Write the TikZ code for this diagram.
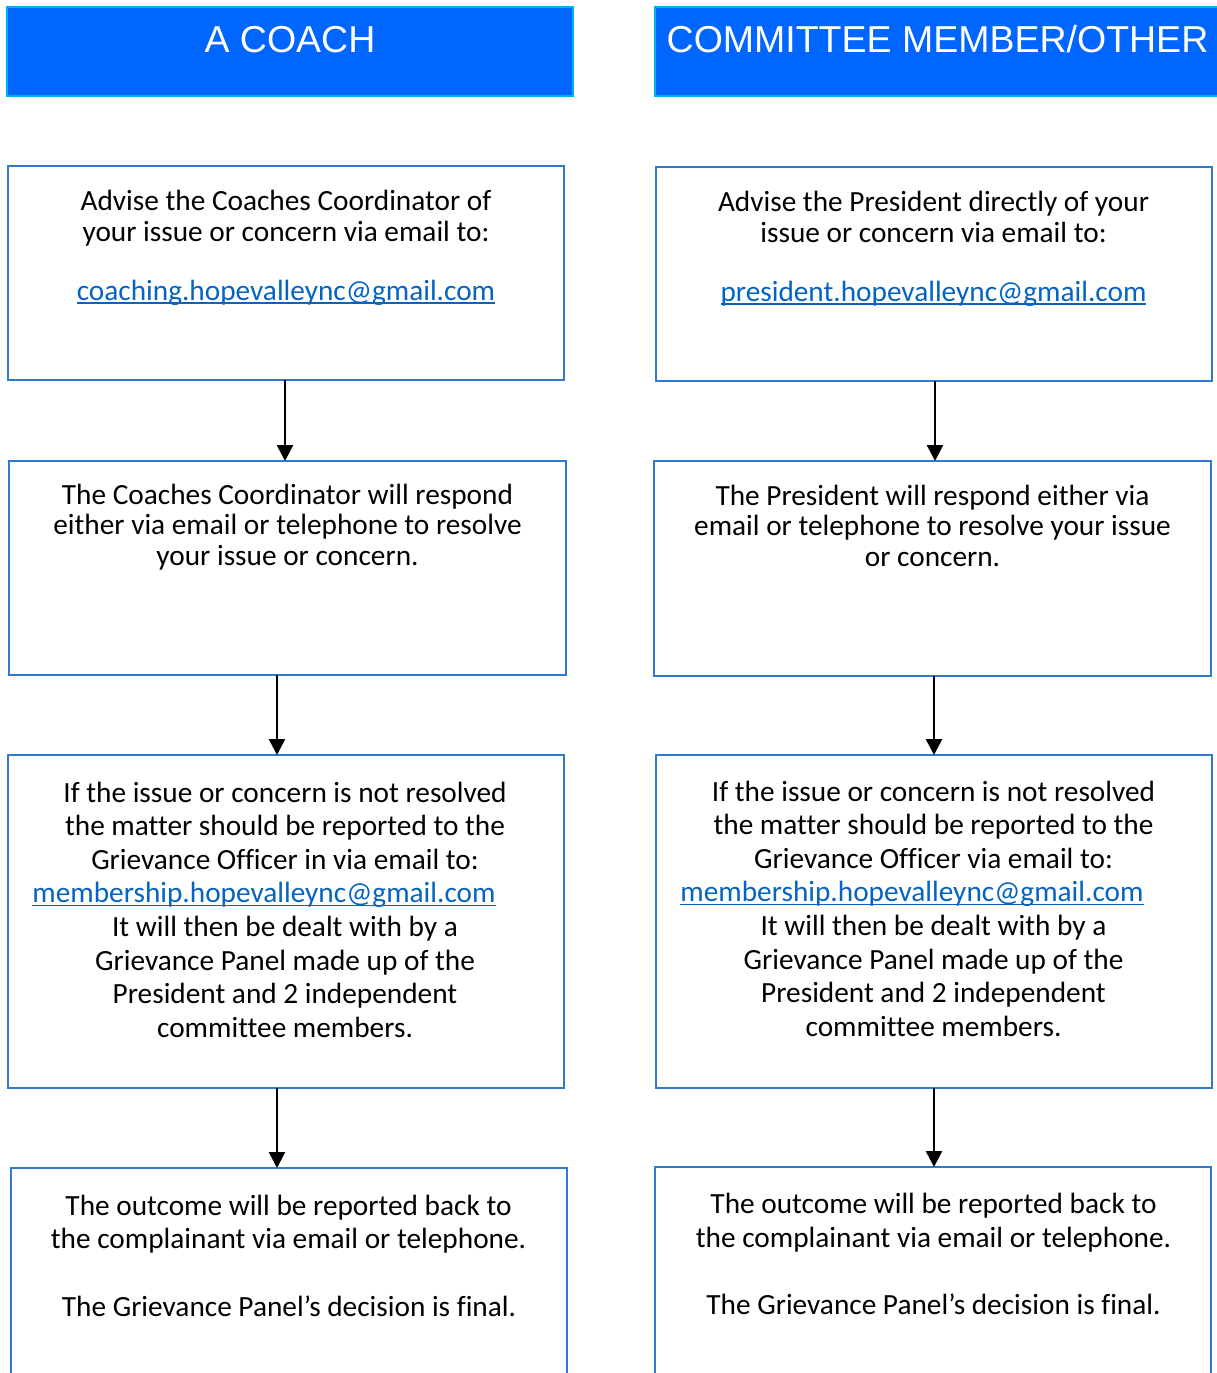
\documentclass[tikz,border=0pt]{standalone}
\usepackage{fontspec}
\setmainfont[Ligatures=NoCommon]{Carlito}
\newfontfamily\hdrfont{Liberation Sans}
\usetikzlibrary{arrows.meta}
\definecolor{hdrfill}{HTML}{0066FF}
\definecolor{hdredge}{HTML}{00B0F0}
\definecolor{boxedge}{HTML}{2E7BCF}
\definecolor{linkblue}{HTML}{0563C1}
\newcommand\myul[1]{\setbox0=\hbox{#1}\rlap{\rule[-3.5pt]{\wd0}{1.6pt}}\box0}
\newcommand\txtlines[5]{%
  \foreach \t [count=\i] in {#5} \node[txt] (#1-\i) at (#2,{#3+(\i-1)*#4}) {\t};}
\begin{document}
\begin{tikzpicture}[x=1pt,y=-1pt,
  hdrbox/.style={draw=hdredge,fill=hdrfill,line width=2pt,inner sep=0pt,outer sep=0pt},
  hdrtxt/.style={anchor=base,inner sep=0pt,text=white,font=\hdrfont\fontsize{37.5}{45}\selectfont},
  stepbox/.style={draw=boxedge,line width=2pt,inner sep=0pt,outer sep=0pt},
  txt/.style={anchor=base,inner sep=0pt,font=\fontsize{29.3}{35}\selectfont},
  linktxt/.style={txt,text=linkblue},
  arr/.style={line width=2.6pt,-{Triangle[width=16pt,length=16pt]}}]
\useasboundingbox (0,0) rectangle (1216,1373);
% headers
\node[hdrbox,minimum width=566pt,minimum height=89pt] (HL) at (290,51.5) {};
\node[hdrbox,minimum width=567pt,minimum height=89pt] (HR) at (938.5,51.5) {};
\node[hdrtxt] (HLt) at (290,52) {A COACH};
\node[hdrtxt] (HRt) at (937.5,52) {COMMITTEE MEMBER/OTHER};
% left boxes
\node[stepbox,minimum width=556pt,minimum height=214pt] (L1) at (286,273) {};
\node[stepbox,minimum width=557pt,minimum height=214pt] (L2) at (287.5,568) {};
\node[stepbox,minimum width=556pt,minimum height=333pt] (L3) at (286,921.5) {};
\node[stepbox,minimum width=556pt,minimum height=222pt] (L4) at (289,1279) {};
% right boxes
\node[stepbox,minimum width=556pt,minimum height=214pt] (R1) at (934,274) {};
\node[stepbox,minimum width=557pt,minimum height=215pt] (R2) at (932.5,568.5) {};
\node[stepbox,minimum width=556pt,minimum height=333pt] (R3) at (934,921.5) {};
\node[stepbox,minimum width=556pt,minimum height=223pt] (R4) at (933,1278.5) {};
% left texts
\txtlines{L1t}{286}{210}{31}{{Advise the Coaches Coordinator of},{your issue or concern via email to:}}
\node[linktxt] (L1l) at (286,300) {\myul{coaching.hopevalleync@gmail.com}};
\txtlines{L2t}{287.5}{504}{30.5}{{The Coaches Coordinator will respond},{either via email or telephone to resolve},{your issue or concern.}}
\txtlines{L3a}{285}{802}{33.6}{{If the issue or concern is not resolved},{the matter should be reported to the},{Grievance Officer in via email to:}}
\node[linktxt] (L3l) at (264,902.8) {\myul{membership.hopevalleync@gmail.com}};
\txtlines{L3b}{285}{936.4}{33.6}{{It will then be dealt with by a},{Grievance Panel made up of the},{President and 2 independent},{committee members.}}
\txtlines{L4a}{288.5}{1215}{33}{{The outcome will be reported back to},{the complainant via email or telephone.}}
\node[txt] (L4b) at (289,1316) {The Grievance Panel’s decision is final.};
% right texts
\txtlines{R1t}{933.5}{211}{31}{{Advise the President directly of your},{issue or concern via email to:}}
\node[linktxt] (R1l) at (933.5,301) {\myul{president.hopevalleync@gmail.com}};
\txtlines{R2t}{932.5}{505}{30.5}{{The President will respond either via},{email or telephone to resolve your issue},{or concern.}}
\txtlines{R3a}{933.5}{801}{33.6}{{If the issue or concern is not resolved},{the matter should be reported to the},{Grievance Officer via email to:}}
\node[linktxt] (R3l) at (912,901.8) {\myul{membership.hopevalleync@gmail.com}};
\txtlines{R3b}{933.5}{935.4}{33.6}{{It will then be dealt with by a},{Grievance Panel made up of the},{President and 2 independent},{committee members.}}
\txtlines{R4a}{933.5}{1213}{34}{{The outcome will be reported back to},{the complainant via email or telephone.}}
\node[txt] (R4b) at (933.5,1314) {The Grievance Panel’s decision is final.};
% arrows
\draw[arr] (L1.south -| 285,0) -- (L2.north -| 285,0);
\draw[arr] (L2.south -| 277,0) -- (L3.north -| 277,0);
\draw[arr] (L3.south -| 277,0) -- (L4.north -| 277,0);
\draw[arr] (R1.south -| 935,0) -- (R2.north -| 935,0);
\draw[arr] (R2.south -| 934,0) -- (R3.north -| 934,0);
\draw[arr] (R3.south -| 934,0) -- (R4.north -| 934,0);
\end{tikzpicture}
\end{document}
